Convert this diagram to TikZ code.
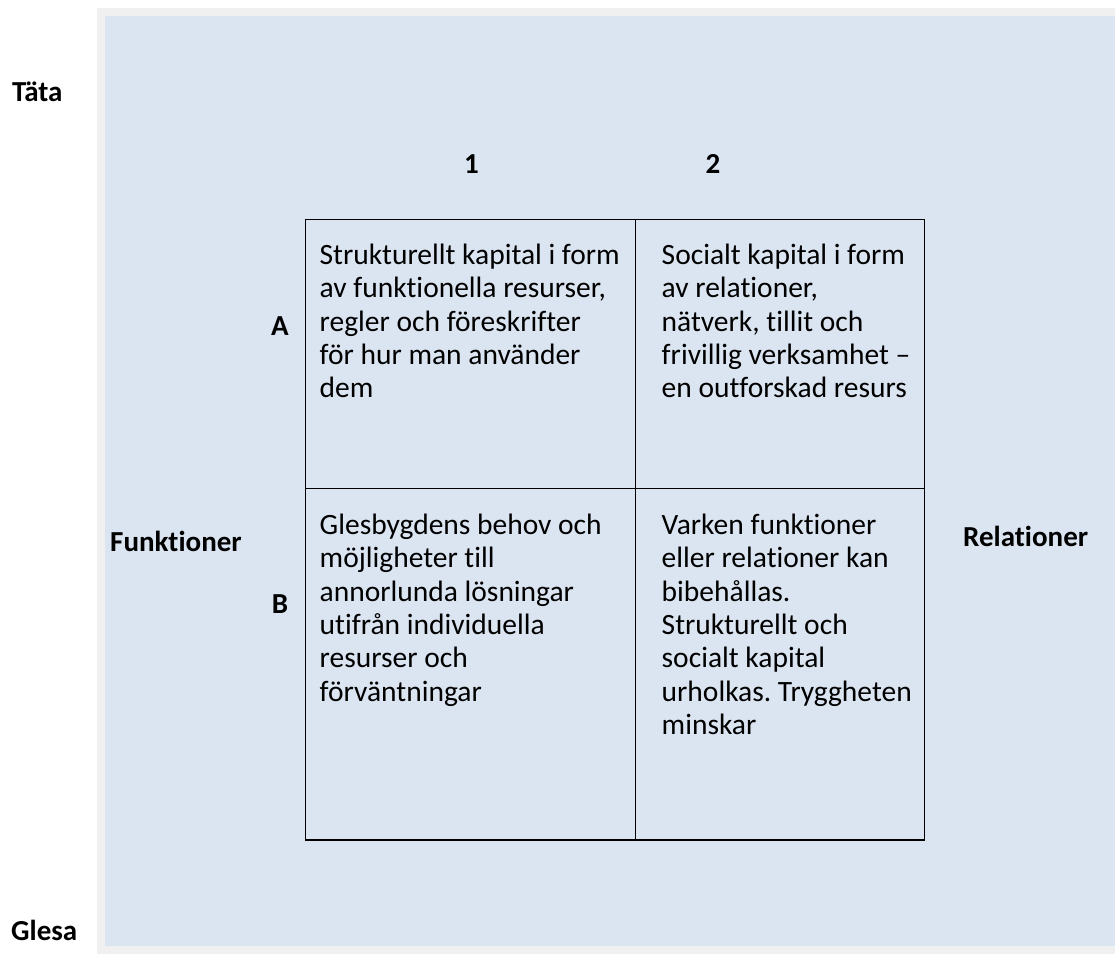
\documentclass[tikz,border=0pt]{standalone}
\usepackage{fontspec}
\setmainfont[Ligatures=NoCommon]{Carlito}
\usetikzlibrary{positioning}
\definecolor{PanelBlue}{HTML}{DBE5F1}
\definecolor{FrameGray}{HTML}{F0F0F0}
\newcommand{\CellFont}{\fontsize{29.5pt}{33.3pt}\selectfont}
\newcommand{\AxisFont}{\fontsize{29pt}{33.3pt}\selectfont\bfseries}
\frenchspacing

\begin{document}
\begin{tikzpicture}[x=1pt, y=-1pt,
  cell/.style={draw, line width=1.1pt, inner sep=0pt, anchor=north west},
  celltext/.style={anchor=north west, inner sep=0pt, align=left, font=\CellFont},
  axis/.style={inner sep=0pt, font=\AxisFont}]
  \useasboundingbox (0,0) rectangle (1115,954);
  % panel
  \fill[FrameGray] (97,8) rectangle (1115,954);
  \fill[PanelBlue] (105,16) rectangle (1115,946);
  % grid cells
  \node[cell, minimum width=330pt, minimum height=269pt] (a1) at (305,219) {};
  \node[cell, minimum width=289pt, minimum height=269pt] (a2) at (635,219) {};
  \node[cell, minimum width=330pt, minimum height=351pt] (b1) at (305,488) {};
  \node[cell, minimum width=289pt, minimum height=351pt] (b2) at (635,488) {};
  \draw[line width=2pt] (b1.south west) -- (b2.south east);
  % cell texts
  \node[celltext, below right=22pt and 14.5pt of a1.north west] (ta1)
    {\strut Strukturellt kapital i form\\av funktionella resurser,\\regler och föreskrifter\\för hur man använder\\dem};
  \node[celltext, below right=22pt and 26.5pt of a2.north west] (ta2)
    {\strut Socialt kapital i form\\av relationer,\\nätverk, tillit och\\frivillig verksamhet –\\en outforskad resurs};
  \node[celltext, below right=23pt and 14.5pt of b1.north west] (tb1)
    {\strut Glesbygdens behov och\\möjligheter till\\annorlunda lösningar\\utifrån individuella\\resurser och\\förväntningar};
  \node[celltext, below right=23pt and 26.5pt of b2.north west] (tb2)
    {\strut Varken funktioner\\eller relationer kan\\bibehållas.\\Strukturellt och\\socialt kapital\\urholkas. Tryggheten\\minskar};
  % axis labels
  \node[axis, anchor=base west] (tata) at (12,101) {Täta};
  \node[axis, anchor=base west] (glesa) at (11,940) {Glesa};
  \node[axis, anchor=base] (col1) at (471.5,173) {1};
  \node[axis, anchor=base] (col2) at (713,173) {2};
  \node[axis, anchor=base] (rowa) at (280,335) {A};
  \node[axis, anchor=base] (rowb) at (280,613) {B};
  \node[axis, anchor=base west] (funk) at (110,551) {Funktioner};
  \node[axis, anchor=base west] (rel) at (963,546) {Relationer};
\end{tikzpicture}
\end{document}
